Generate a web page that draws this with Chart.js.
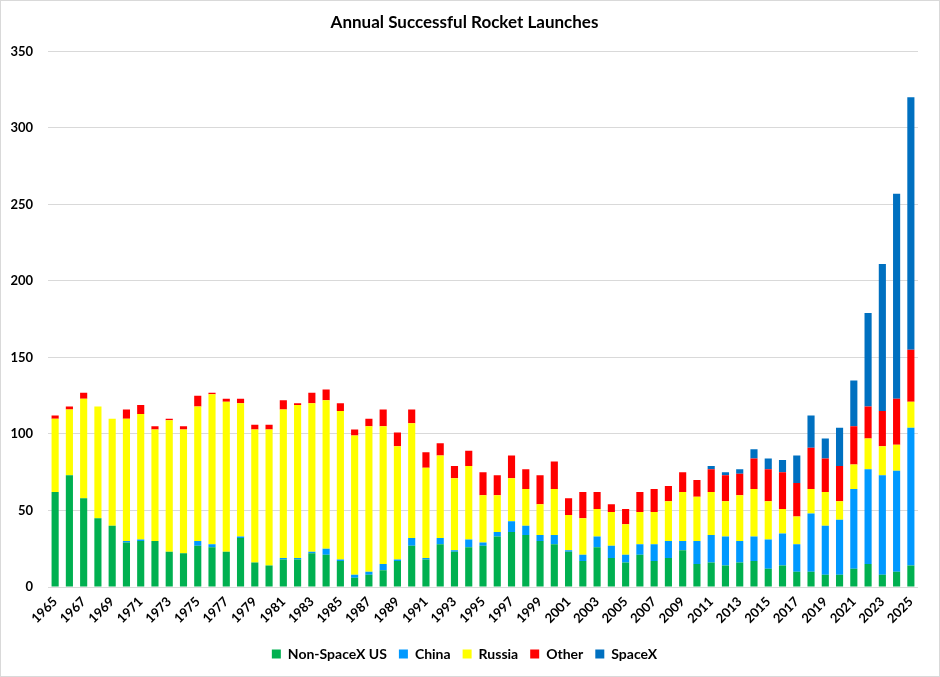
<!DOCTYPE html>
<html>
<head>
<meta charset="utf-8">
<script src="https://cdn.jsdelivr.net/npm/chart.js@4"></script>
<style>
  body { margin: 0; background: #fff; }
  canvas { display: block; }
</style>
</head>
<body>
<canvas id="myChart" width="940" height="677"></canvas>
<script>
var years = [];
for (var y = 1965; y <= 2025; y++) years.push(String(y));

var nonSpaceXUS = [62,73,58,45,40,29,30,30,23,22,27,26,23,32,16,14,18,18,22,21,17,6,8,11,17,27,18,28,23,26,
  27,33,36,34,30,28,23,17,26,19,16,21,17,19,24,15,16,14,16,17,12,14,10,10,8,8,12,15,8,10,14];
var china = [0,0,0,0,0,1,1,0,0,0,3,2,0,1,0,0,1,1,1,4,1,2,2,4,1,5,1,4,1,5,
  2,3,7,6,4,6,1,4,7,8,5,7,11,11,6,15,18,19,14,16,19,21,18,38,32,36,52,62,65,66,90];
var russia = [48,43,65,73,70,80,82,73,86,81,88,98,98,87,87,89,97,100,97,97,97,91,95,90,74,75,59,54,47,48,
  31,24,28,24,20,30,23,24,18,22,20,21,21,26,32,29,28,23,30,31,25,16,18,16,22,12,16,20,19,17,17];
var other = [2,2,4,0,0,6,6,2,1,2,7,1,2,3,3,3,6,1,7,7,5,4,5,11,9,9,10,8,8,10,
  15,13,15,13,19,18,11,17,11,5,10,13,15,10,13,11,15,17,14,20,21,24,22,27,22,23,25,21,23,30,34];
var spaceX = [0,0,0,0,0,0,0,0,0,0,0,0,0,0,0,0,0,0,0,0,0,0,0,0,0,0,0,0,0,0,
  0,0,0,0,0,0,0,0,0,0,0,0,0,0,0,0,2,2,3,6,7,8,18,21,13,25,30,61,96,134,165];
var yTicks = [0,50,100,150,200,250,300,350];

var font = "Lato, 'Open Sans', sans-serif";

// white page with a thin grey frame, like the exported picture
var frame = {
  id: 'frame',
  beforeDraw: function(chart) {
    var c = chart.ctx;
    c.save();
    c.fillStyle = '#fff';
    c.fillRect(0, 0, chart.width, chart.height);
    c.restore();
  },
  afterDraw: function(chart) {
    var c = chart.ctx;
    c.save();
    c.strokeStyle = '#d9d9d9';
    c.lineWidth = 1;
    c.strokeRect(0.5, 0.5, chart.width - 1, chart.height - 1);
    c.restore();
  }
};

new Chart(document.getElementById("myChart"), {
  type: 'bar',
  data: {
    labels: years,
    datasets: [
      { label: "Non-SpaceX US", backgroundColor: "#00b050", data: nonSpaceXUS },
      { label: "China", backgroundColor: "#0099ff", data: china },
      { label: "Russia", backgroundColor: "#ffff00", data: russia },
      { label: "Other", backgroundColor: "#ff0000", data: other },
      { label: "SpaceX", backgroundColor: "#0070c0", data: spaceX }
    ]
  },
  plugins: [frame],
  options: {
    responsive: false,
    animation: false,
    // equal side padding keeps title and legend centred on the page
    layout: { padding: { left: 11, right: 22, top: 0, bottom: 6 } },
    datasets: { bar: { categoryPercentage: 1, barPercentage: 0.5 } },
    plugins: {
      title: {
        display: true,
        text: 'Annual Successful Rocket Launches',
        color: '#000',
        font: { family: font, size: 17, weight: 'bold' },
        padding: { top: 12, bottom: 19 }
      },
      legend: {
        position: 'bottom',
        labels: {
          color: '#000',
          boxWidth: 9,
          boxHeight: 9,
          padding: 12,
          font: { family: font, size: 14, weight: 'bold' }
        }
      },
      tooltip: { enabled: false }
    },
    scales: {
      x: {
        stacked: true,
        grid: { display: false, drawTicks: false },
        border: { display: false },
        afterFit: function(scale) { scale.height = 48; },
        ticks: {
          autoSkip: false,
          maxRotation: 45,
          minRotation: 45,
          padding: 7,
          color: '#000',
          font: { family: font, size: 13, weight: 'bold' },
          callback: function(v, i) { return i % 2 === 0 ? years[i] : ''; }
        }
      },
      y: {
        stacked: true,
        min: 0,
        max: 350,
        afterFit: function(scale) { scale.width = 37; },
        afterBuildTicks: function(scale) {
          scale.ticks = yTicks.map(function(v) { return { value: v }; });
        },
        grid: { color: '#d9d9d9', drawTicks: false },
        border: { display: false },
        ticks: {
          padding: 15,
          color: '#000',
          font: { family: font, size: 13, weight: 'bold' }
        }
      }
    }
  }
});
</script>
</body>
</html>
